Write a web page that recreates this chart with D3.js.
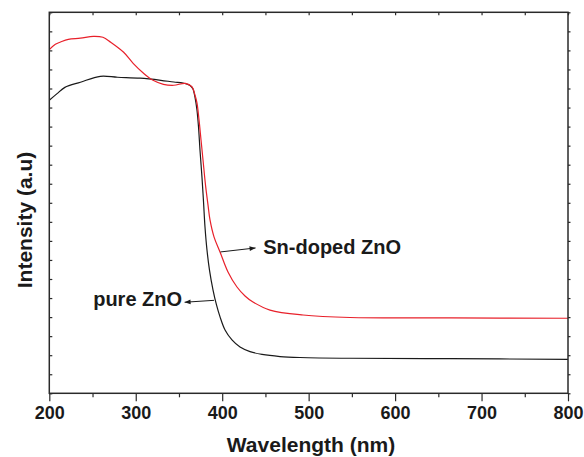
<!DOCTYPE html>
<html>
<head>
<meta charset="utf-8">
<script src="https://cdn.jsdelivr.net/npm/d3@7"></script>
<style>
  html, body { margin: 0; padding: 0; background: #fff; }
  svg { display: block; font-family: "Liberation Sans", Arial, sans-serif; }
</style>
</head>
<body>
<svg id="chart" width="584" height="457"></svg>
<script>
// ---- data ----
const pureWl  = [200, 209, 218, 236, 259, 279, 305, 329, 344, 354.7, 362.8, 366.2, 368.5, 370.8, 372.6, 374.3, 376.6, 378.4, 380.1, 382.4, 385.3, 389.4, 393.4, 397.5, 403.3, 411.3, 420.6, 432.2, 446.1, 466.9, 490, 547.8, 663.5, 800];
const pureVal = [15.38, 15.73, 16.06, 16.33, 16.64, 16.59, 16.54, 16.43, 16.34, 16.29, 16.16, 15.97, 15.55, 14.87, 13.98, 12.77, 11.35, 10.04, 8.73, 7.52, 6.47, 5.42, 4.64, 4.01, 3.32, 2.80, 2.43, 2.19, 2.04, 1.93, 1.88, 1.84, 1.82, 1.78];

const snWl  = [200, 207, 213, 222, 236, 251, 262, 271, 286, 297, 309, 320, 332, 344, 357.5, 365.1, 368.5, 370.8, 373.2, 375.5, 377.8, 380.7, 383.6, 385.9, 390.6, 397.5, 406.7, 417.1, 426.4, 435.6, 455.3, 493.5, 547.8, 665, 800];
const snVal = [18.04, 18.32, 18.44, 18.58, 18.64, 18.74, 18.69, 18.43, 17.90, 17.32, 16.80, 16.43, 16.22, 16.17, 16.27, 16.08, 15.66, 15.24, 14.35, 13.30, 12.25, 10.93, 9.88, 9.10, 8.20, 7.42, 6.37, 5.58, 5.11, 4.79, 4.37, 4.11, 3.98, 3.96, 3.94];

const xMajorTicks = [200, 300, 400, 500, 600, 700, 800];
const xMinorTicks = [250, 350, 450, 550, 650, 750];
const xTickLabels = ["200", "300", "400", "500", "600", "700", "800"];
const yTicks = d3.range(0, 21, 1);

const seriesNames = ["pure ZnO", "Sn-doped ZnO"];
const seriesColors = ["#1a1a1a", "#e8202a"];
// annotation anchors in data units: [fromWl, fromVal, toWl, toVal, textWl, textVal]
const annoPure = [390.5, 4.88, 356.5, 4.78, 353.6, 4.57];
const annoSn   = [398, 7.42, 438.6, 7.63, 447.5, 7.33];

const xTitle = "Wavelength (nm)";
const yTitle = "Intensity (a.u)";

// ---- layout ----
const svg = d3.select("#chart");
const mLeft = 49.3, mRight = 568, mTop = 12.3, mBottom = 393.3;
const x = d3.scaleLinear().domain([200, 800]).range([mLeft, mRight]);
const y = d3.scaleLinear().domain([0, 20]).range([mBottom, mTop]);
const axisColor = "#2a2a2a";

// defs
const defs = svg.append("defs");
defs.append("marker").attr("id", "ah").attr("viewBox", "0 0 10 10")
  .attr("refX", 10).attr("refY", 5).attr("markerWidth", 8).attr("markerHeight", 6)
  .attr("markerUnits", "userSpaceOnUse").attr("orient", "auto")
  .append("path").attr("d", "M0,1 L10,5 L0,9 Z").attr("fill", "#1a1a1a");

// curves
const line = d3.line().x(d => x(d[0])).y(d => y(d[1])).curve(d3.curveCatmullRom.alpha(0.5));
const pureData = pureWl.map((w, i) => [w, pureVal[i]]);
const snData = snWl.map((w, i) => [w, snVal[i]]);

svg.append("path").datum(pureData).attr("d", line)
  .attr("fill", "none").attr("stroke", seriesColors[0]).attr("stroke-width", 1.2);
svg.append("path").datum(snData).attr("d", line)
  .attr("fill", "none").attr("stroke", seriesColors[1]).attr("stroke-width", 1.2);

// axes
function styleAxis(g) {
  g.select(".domain").remove();
  g.selectAll(".tick line").attr("stroke", axisColor).attr("stroke-width", 1.2);
}
// bottom major
const gb = svg.append("g").attr("transform", `translate(0,${mBottom})`)
  .call(d3.axisBottom(x).tickValues(xMajorTicks).tickSize(8).tickPadding(5)
    .tickFormat((d, i) => xTickLabels[i]));
styleAxis(gb);
gb.selectAll(".tick text").attr("font-size", 18).attr("font-weight", "bold")
  .attr("fill", "#1a1a1a").attr("font-family", "Liberation Sans, Arial, sans-serif");
// bottom minor
const gbm = svg.append("g").attr("transform", `translate(0,${mBottom})`)
  .call(d3.axisBottom(x).tickValues(xMinorTicks).tickSize(4).tickFormat(""));
styleAxis(gbm);
// top ticks (inward)
const gt = svg.append("g").attr("transform", `translate(0,${mTop})`)
  .call(d3.axisBottom(x).tickValues(xMajorTicks.concat(xMinorTicks)).tickSize(3).tickFormat(""));
styleAxis(gt);
// left ticks (inward)
const gl = svg.append("g").attr("transform", `translate(${mLeft},0)`)
  .call(d3.axisRight(y).tickValues(yTicks).tickSize(3).tickFormat(""));
styleAxis(gl);
// right ticks (outward)
const gr = svg.append("g").attr("transform", `translate(${mRight},0)`)
  .call(d3.axisRight(y).tickValues(yTicks).tickSize(2.5).tickFormat(""));
styleAxis(gr);

// frame
svg.append("rect").attr("x", mLeft).attr("y", mTop)
  .attr("width", mRight - mLeft).attr("height", mBottom - mTop)
  .attr("fill", "none").attr("stroke", axisColor).attr("stroke-width", 1.5);

// axis titles
svg.append("text").attr("x", 311).attr("y", 452).attr("text-anchor", "middle")
  .attr("font-size", 21).attr("font-weight", "bold").attr("fill", "#1a1a1a").text(xTitle);
svg.append("text").attr("transform", "translate(32,220) rotate(-90)").attr("text-anchor", "middle")
  .attr("font-size", 21).attr("font-weight", "bold").attr("fill", "#1a1a1a").text(yTitle);

// annotations
function annotate(a, label, anchor) {
  svg.append("line")
    .attr("x1", x(a[0])).attr("y1", y(a[1]))
    .attr("x2", x(a[2])).attr("y2", y(a[3]))
    .attr("stroke", "#1a1a1a").attr("stroke-width", 1).attr("marker-end", "url(#ah)");
  svg.append("text").attr("x", x(a[4])).attr("y", y(a[5]))
    .attr("text-anchor", anchor).attr("font-size", 20).attr("font-weight", "bold")
    .attr("fill", "#1a1a1a").text(label);
}
annotate(annoPure, seriesNames[0], "end");
annotate(annoSn, seriesNames[1], "start");
</script>
</body>
</html>
